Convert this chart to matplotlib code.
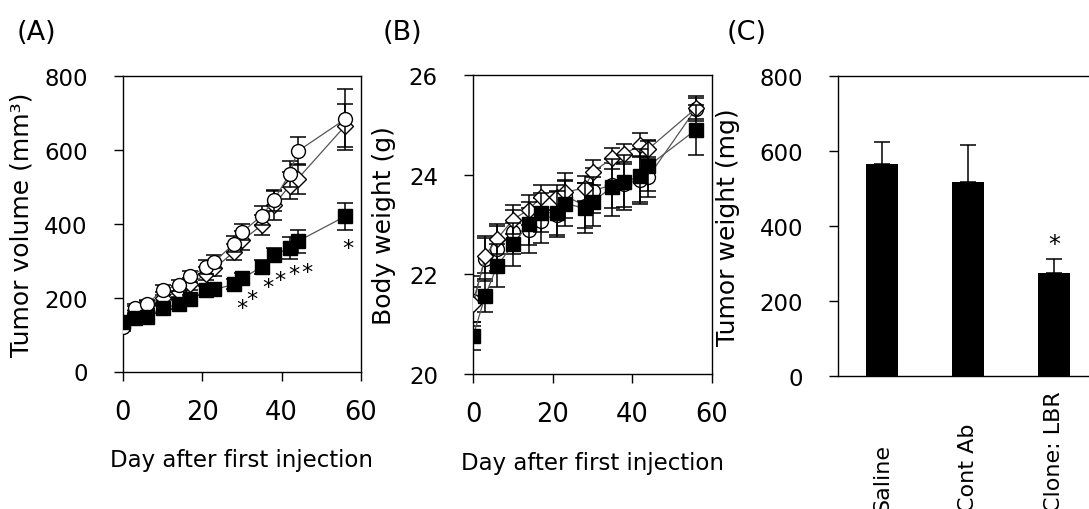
import matplotlib
matplotlib.use("Agg")
import matplotlib.pyplot as plt
from matplotlib.transforms import blended_transform_factory

# ---- data ----
days = [0, 3, 6, 10, 14, 17, 21, 23, 28, 30, 35, 38, 42, 44, 56]

# (A) tumor volume, mm3
vol_saline = [120, 171, 182, 220, 234, 258, 283, 297, 346, 377, 422, 463, 535, 596, 683]
vol_cont   = [130, 166, 180, 200, 216, 236, 265, 279, 324, 355, 396, 450, 503, 521, 665]
vol_lbr    = [133, 146, 148, 171, 182, 195, 220, 222, 236, 252, 283, 315, 334, 352, 420]
vol_saline_err = [10, 12, 12, 14, 15, 15, 18, 18, 22, 22, 25, 29, 35, 38, 82]
vol_cont_err   = [10, 12, 12, 14, 15, 16, 18, 20, 22, 25, 27, 40, 36, 40, 58]
vol_lbr_err    = [10, 10, 10, 12, 12, 12, 12, 12, 14, 15, 18, 18, 29, 30, 36]
star_days = [30, 32.4, 36.5, 39.6, 43, 46.3, 56.8]
star_vals = [171, 195, 229, 247, 265, 270, 333]

# (B) body weight, g
bw_saline = [21.47, 22.31, 22.51, 22.85, 22.88, 23.08, 23.2, 23.58, 23.38, 23.68, 23.79, 23.81, 23.9, 23.95, 25.32]
bw_cont   = [21.40, 22.37, 22.71, 23.10, 23.30, 23.55, 23.55, 23.65, 23.73, 24.05, 24.33, 24.41, 24.60, 24.51, 25.33]
bw_lbr    = [20.77, 21.57, 22.17, 22.60, 23.02, 23.24, 23.23, 23.42, 23.33, 23.46, 23.75, 23.85, 23.97, 24.17, 24.90]
bw_saline_err = [0.5, 0.45, 0.45, 0.45, 0.45, 0.45, 0.45, 0.45, 0.45, 0.45, 0.45, 0.45, 0.45, 0.4, 0.25]
bw_cont_err   = [0.35, 0.35, 0.3, 0.3, 0.3, 0.25, 0.25, 0.25, 0.25, 0.25, 0.21, 0.2, 0.23, 0.19, 0.21]
bw_lbr_err    = [0.28, 0.33, 0.43, 0.43, 0.43, 0.4, 0.45, 0.45, 0.5, 0.5, 0.57, 0.55, 0.55, 0.5, 0.5]

# (C) tumor weight, mg
groups = ["Saline", "Cont Ab", "Clone: LBR"]
tw = [566, 519, 276]
tw_err = [58, 98, 37]
tw_star = 353

plt.rcParams["font.family"] = "DejaVu Sans"
W, H = 1089, 510
fig = plt.figure(figsize=(W / 100, H / 100), dpi=100)

def px_axes(l, t, r, b):
    return fig.add_axes([l / W, 1 - b / H, (r - l) / W, (b - t) / H])

def style(ax):
    for s in ax.spines.values():
        s.set_linewidth(1.0)
    ax.tick_params(direction="out", length=6.5, width=1.0, top=False, right=False)
    ax.tick_params(axis="y", labelsize=16.5, pad=19)
    ax.tick_params(axis="x", labelsize=18.5, pad=13)

def series(ax, y, e, marker, face, ms, z):
    ax.errorbar(days, y, yerr=e, fmt="none", ecolor="black", elinewidth=1.1,
                capsize=5.5, capthick=1.1, zorder=z)
    ax.plot(days, y, color="#555555", lw=0.9, zorder=z + 0.1)
    ax.plot(days, y, ls="none", marker=marker, ms=ms, mfc=face, mec="black",
            mew=1.0, zorder=z + 0.2)

# ---- (A) ----
axA = px_axes(123, 77, 361, 372.5)
series(axA, vol_cont, vol_cont_err, "D", "white", 8, 2)
series(axA, vol_saline, vol_saline_err, "o", "white", 10, 3)
series(axA, vol_lbr, vol_lbr_err, "s", "black", 10, 4)
for d, v in zip(star_days, star_vals):
    axA.text(d, v, "*", fontsize=16, ha="center", va="center")
axA.set_xlim(0, 60)
axA.set_ylim(0, 800)
axA.set_xticks([0, 20, 40, 60])
axA.set_yticks([0, 200, 400, 600, 800])
style(axA)
axA.set_xlabel("Day after first injection", fontsize=16.5, labelpad=17)
axA.set_ylabel("Tumor volume (mm³)", fontsize=18)
axA.yaxis.set_label_coords(-0.375, 0.5)

# ---- (B) ----
axB = px_axes(473.3, 76, 711.7, 375)
series(axB, bw_saline, bw_saline_err, "o", "white", 10, 2)
series(axB, bw_cont, bw_cont_err, "D", "white", 8, 3)
series(axB, bw_lbr, bw_lbr_err, "s", "black", 10, 4)
axB.set_xlim(0, 60)
axB.set_ylim(20, 26)
axB.set_xticks([0, 20, 40, 60])
axB.set_yticks([20, 22, 24, 26])
style(axB)
axB.set_xlabel("Day after first injection", fontsize=16.5, labelpad=17)
axB.set_ylabel("Body weight (g)", fontsize=18)
axB.yaxis.set_label_coords(-0.325, 0.5)

# ---- (C) ----
axC = px_axes(838.3, 77.3, 1097, 377.3)
xpos = list(range(len(groups)))
axC.bar(xpos, tw, width=0.38, color="black", zorder=2)
axC.errorbar(xpos, tw, yerr=[[0] * len(tw), tw_err], fmt="none", ecolor="black",
             elinewidth=1.1, capsize=6, capthick=1.1, zorder=3)
axC.text(2, tw_star, "*", fontsize=17, ha="center", va="center")
axC.set_xlim(-0.51, 2.5)
axC.set_ylim(0, 800)
axC.set_yticks([0, 200, 400, 600, 800])
style(axC)
axC.spines["right"].set_visible(False)
axC.set_xticks([])
axC.set_ylabel("Tumor weight (mg)", fontsize=18)
axC.yaxis.set_label_coords(-0.38, 0.5)
tr = blended_transform_factory(axC.transData, fig.transFigure)
for x, g in zip(xpos, groups):
    axC.text(x, 1 - 512 / H, g, transform=tr, rotation=90, rotation_mode="anchor",
             ha="left", va="center", fontsize=16, clip_on=False)

# panel letters
for x, lab in [(17, "(A)"), (383, "(B)"), (727, "(C)")]:
    fig.text(x / W, 1 - 33 / H, lab, fontsize=19.5, ha="left", va="center")

fig.savefig("out.png", dpi=100)
